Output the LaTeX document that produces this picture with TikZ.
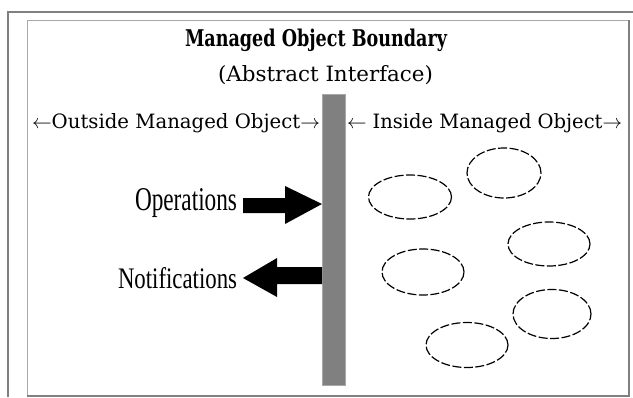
\documentclass[tikz,border=0pt]{standalone}
\usepackage{fontspec}
\setmainfont{DejaVu Serif}
\newfontfamily\lblfont{Liberation Serif}
\usetikzlibrary{shapes.geometric}
\definecolor{framegray}{HTML}{808080}
\definecolor{lightframe}{HTML}{A8A8A8}
\definecolor{bargray}{HTML}{808080}
\tikzset{
  txt/.style={inner sep=0pt, outer sep=0pt, anchor=base west},
  blob/.style={ellipse, draw=black, line width=1.2pt, dash pattern=on 9pt off 2.5pt, inner sep=0pt},
  blockarrow/.style={fill=black, draw=none}
}
\begin{document}
\begin{tikzpicture}[x=1pt,y=-1pt]
\useasboundingbox (0,0) rectangle (633,397);
\fill[white] (0,0) rectangle (633,397);
% outer frame (L shape)
\draw[framegray, line width=2pt] (8,397) -- (8,12) -- (633,12);
% inner frame
\draw[lightframe, line width=1pt] (27,396) -- (27,20) -- (629,20);
\draw[framegray, line width=1.2pt] (27,396) -- (629,396) -- (629,20);
% titles
\node[txt] (title) at (185,46) {\resizebox{262pt}{17.5pt}{\bfseries Managed Object Boundary}};
\node[txt] (subtitle) at (218,81) {\resizebox{215pt}{16pt}{(Abstract Interface)}};
\node[txt] (outside) at (32,128) {\resizebox{288pt}{15pt}{$\leftarrow$Outside Managed Object$\rightarrow$}};
\node[txt] (inside) at (347,128) {\resizebox{275pt}{15pt}{$\leftarrow$ Inside Managed Object$\rightarrow$}};
% boundary bar
\node[fill=bargray, draw=lightframe, line width=0.5pt, minimum width=23pt, minimum height=291pt, inner sep=0pt, anchor=north west] (bar) at (322,94) {};
% operations
\node[txt] (ops) at (135,210) {\resizebox{102pt}{22pt}{\lblfont Operations}};
\fill[blockarrow] (243,198) -- (285,198) -- (285,186) -- (bar.west |- 0,204) -- (285,224) -- (285,213) -- (243,213) -- cycle;
% notifications
\node[txt] (notif) at (118,288) {\resizebox{119pt}{21pt}{\lblfont Notifications}};
\fill[blockarrow] (bar.west |- 0,267) -- (277,267) -- (277,258) -- (243,278) -- (277,297) -- (277,284) -- (bar.west |- 0,284) -- cycle;
% managed objects
\node[blob, minimum width=83pt, minimum height=44pt] (e1) at (410,197) {};
\node[blob, minimum width=74pt, minimum height=50pt] (e2) at (504,173) {};
\node[blob, minimum width=82pt, minimum height=44pt] (e3) at (549,244) {};
\node[blob, minimum width=82pt, minimum height=46pt] (e4) at (423,272) {};
\node[blob, minimum width=78pt, minimum height=49pt] (e5) at (552,314) {};
\node[blob, minimum width=82pt, minimum height=45pt] (e6) at (467,345) {};
\end{tikzpicture}
\end{document}
